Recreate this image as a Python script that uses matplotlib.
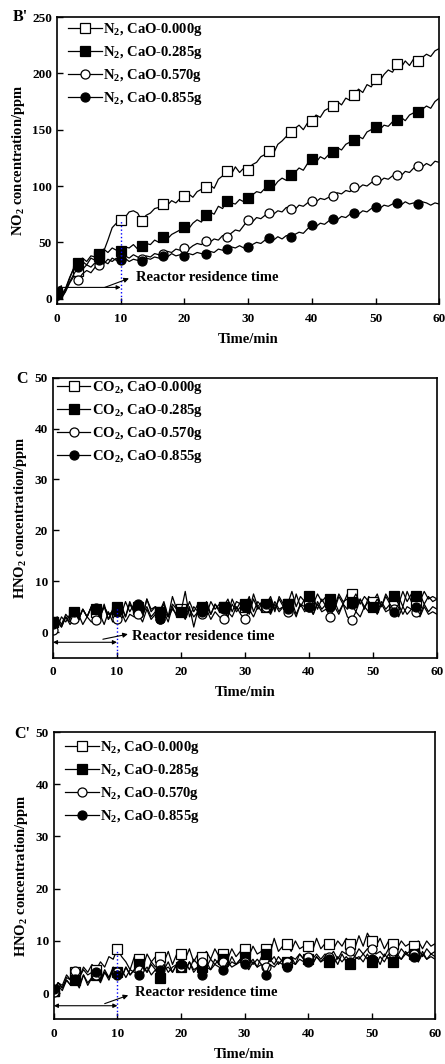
import numpy as np
import matplotlib
matplotlib.use("Agg")
import matplotlib.pyplot as plt

plt.rcParams['font.family'] = ['Liberation Serif', 'DejaVu Serif']
plt.rcParams['font.weight'] = 'bold'
plt.rcParams['axes.labelweight'] = 'bold'
plt.rcParams['mathtext.default'] = 'regular'

# sampling every 40 s, 0-60 min
time_min = np.arange(91) * 2.0 / 3.0

# ---- B' : NO2 under N2 ----
no2_n2_000 = [5, 3, 9, 19, 27, 25, 33, 30, 36, 34, 38, 42, 52, 63, 67,
              70, 72, 77, 78, 76, 69, 74, 76, 80, 81, 84, 83, 87, 85, 89,
              91, 93, 90, 95, 97, 99, 101, 98, 106, 109, 113, 110, 117, 112, 116,
              114, 119, 121, 126, 128, 131, 129, 137, 140, 144, 148, 151, 154, 150, 156,
              158, 163, 161, 167, 169, 171, 175, 172, 178, 176, 181, 186, 183, 190, 188,
              195, 193, 199, 203, 201, 208, 205, 211, 207, 213, 211, 214, 217, 215, 220, 222]
no2_n2_285 = [5, 2, 8, 18, 28, 32, 36, 33, 38, 37, 40, 44, 41, 45, 43,
              42, 46, 45, 48, 44, 47, 49, 48, 52, 50, 55, 53, 57, 59, 61,
              64, 62, 67, 70, 68, 74, 77, 75, 82, 80, 87, 85, 84, 88, 86,
              89, 92, 95, 94, 98, 101, 99, 104, 107, 105, 110, 112, 116, 114, 120,
              124, 121, 126, 124, 128, 130, 134, 132, 137, 139, 141, 144, 142, 148, 150,
              152, 150, 154, 153, 157, 159, 161, 158, 163, 165, 166, 168, 171, 169, 175, 178]
no2_n2_570 = [3, 0, 6, 14, 20, 17, 22, 25, 23, 28, 30, 33, 31, 36, 34,
              35, 38, 36, 39, 37, 35, 38, 37, 40, 39, 40, 42, 41, 44, 43,
              45, 44, 47, 49, 48, 51, 50, 53, 52, 56, 55, 58, 61, 60, 65,
              70, 68, 72, 71, 74, 76, 75, 78, 77, 81, 80, 79, 83, 82, 85,
              87, 86, 89, 88, 90, 91, 94, 93, 96, 95, 99, 98, 101, 100, 103,
              105, 104, 107, 106, 109, 110, 109, 113, 112, 116, 118, 117, 120, 118, 122, 121]
no2_n2_855 = [3, 0, 7, 15, 22, 28, 26, 30, 28, 32, 34, 31, 35, 33, 36,
              34, 36, 33, 35, 34, 33, 36, 35, 37, 36, 38, 37, 40, 38, 39,
              38, 40, 39, 41, 40, 40, 42, 41, 44, 43, 44, 46, 45, 47, 45,
              46, 48, 50, 49, 52, 54, 52, 55, 53, 56, 55, 57, 59, 58, 62,
              65, 64, 67, 66, 69, 71, 70, 73, 72, 75, 76, 75, 78, 77, 80,
              81, 80, 83, 82, 84, 85, 83, 86, 84, 85, 84, 86, 85, 83, 85, 84]

# ---- C : HNO2 under CO2 ----
hno2_co2_000 = [2, 1, 3, 2, 3.5, 3.5, 2.5, 4.5, 3, 5, 4, 3, 5, 2.5, 4.5,
                4, 5.5, 3, 6, 4, 4.5, 3, 6.5, 4, 5, 4, 5.5, 3, 7, 4.5,
                4.5, 3.5, 6, 4, 5.5, 4.5, 6, 3.5, 5.5, 4, 5, 3.5, 6.5, 4.5, 6,
                5, 7, 4, 6, 5, 5, 6.5, 4, 7, 5.5, 5.5, 4, 7.5, 5, 6.5,
                5.5, 7, 4.5, 6.5, 5, 6, 4.5, 7, 5.5, 7.5, 7.5, 5, 6.5, 4.5, 7,
                6, 7.5, 5, 7, 5.5, 5.5, 7, 5, 8, 6, 6, 7.5, 5.5, 7, 6, 6.5]
hno2_co2_285 = [2, 3, 1.5, 3.5, 2.5, 4, 2.5, 4.5, 3, 5, 4.5, 3, 5.5, 2.5, 4,
                5, 3.5, 6, 4, 5.5, 5, 3, 6.5, 4.5, 5, 4, 6, 3, 5.5, 4.5,
                4, 8, 3, 5, 4, 5, 3.5, 6, 4.5, 5.5, 5, 6.5, 4, 6, 5.5,
                5.5, 4, 7.5, 5, 6, 5.5, 7, 4.5, 6.5, 5, 5.5, 8, 5, 7, 6,
                7, 5.5, 7.5, 6, 7, 6.5, 5, 7.5, 6, 6.5, 6, 7.5, 5.5, 7, 6,
                5, 6.5, 5, 7.5, 6, 7, 5.5, 8, 6, 7.5, 7, 6, 8, 6.5, 7, 6.5]
hno2_co2_570 = [0.5, 2, 1, 3, 1.5, 2.5, 3.5, 1.5, 3, 2, 2.3, 3.5, 1.5, 4, 2,
                2.5, 4, 2, 3.5, 3, 3.5, 2, 4.5, 2.5, 3.5, 2.5, 4, 2, 5, 3,
                4, 2.5, 4.5, 3, 4, 3.5, 4.5, 2.5, 4, 3, 2.5, 4, 3, 5, 3.5,
                2.5, 4.5, 3, 5, 4, 5, 3.5, 5.5, 4, 5, 4, 5, 3, 5.5, 4,
                5, 3.5, 5.5, 4, 4.5, 3, 5, 3.5, 5.5, 3, 2.3, 4, 3, 5, 4,
                5, 3.5, 5.5, 4, 4.5, 4.5, 3, 5, 3.5, 4.5, 4, 3, 5, 3.5, 4, 3.5]
hno2_co2_855 = [1.5, 2.5, 1, 3, 2, 4, 2.5, 4.5, 3, 5, 4.8, 3, 5, 3.5, 4,
                4, 5, 3, 5.5, 4, 5.5, 3.5, 5, 3, 4, 2.5, 4, 3, 4.5, 3.5,
                4, 3, 5, 1, 4.5, 4, 5, 3.5, 5.5, 4.5, 4.5, 3, 5.5, 4, 5,
                5, 3.5, 6.5, 4.5, 5.5, 5.5, 4, 6, 4.5, 5, 4.5, 6, 3.5, 5.5, 5,
                5, 3.5, 6, 4.5, 5.5, 5, 6, 4, 5.5, 4.5, 5.5, 4, 6.5, 5, 6,
                5, 4, 6, 4.5, 5.5, 4, 5.5, 3.5, 5, 4.5, 5, 3.5, 5.5, 4, 5, 4.5]

# ---- C' : HNO2 under N2 ----
hno2_n2_000 = [0.5, 2, 1.5, 3.5, 2.5, 4, 3, 5, 4, 5.5, 4.5, 6, 5, 7, 6.5,
               8.5, 7, 6, 4.5, 7, 6.5, 5, 7.5, 6, 7, 7, 6, 8, 5.5, 7.5,
               7.5, 6.5, 8.5, 6, 7.5, 7, 8, 6.5, 8.5, 7, 7.5, 6.5, 8.5, 7, 8,
               8.5, 7, 9, 7.5, 8, 8.5, 7.5, 10.5, 8, 9, 9.5, 8, 10, 8.5, 9,
               9, 8, 10.5, 8.5, 9.5, 9.5, 8.5, 10, 9, 10.5, 9.5, 8.5, 11, 9, 11.5,
               10, 9, 10.5, 8.5, 10, 9.5, 8.5, 10, 9, 9.5, 9, 10, 8.5, 10, 9, 9.5]
hno2_n2_285 = [0.5, 1.5, 0.5, 2.5, 1.5, 2.5, 1, 3.5, 1.5, 3, 3.5, 2, 4, 2.5, 4.5,
               4, 3, 5, 3.5, 4.5, 5.5, 4, 5, 3.5, 4.5, 3, 4.5, 5, 4, 5.5,
               5, 4, 6, 4.5, 5, 5, 6, 4.5, 6.5, 5.5, 6.5, 5, 6, 5.5, 6.5,
               7, 5.5, 6.5, 5, 7, 7.5, 6, 7, 5.5, 6.5, 6, 7, 5.5, 7.5, 6.5,
               6.5, 5.5, 7, 6, 7, 6, 7, 5.5, 7.5, 6, 5.5, 6.5, 7, 6, 7.5,
               6, 7, 5.5, 7.5, 6.5, 6, 7.5, 6.5, 8, 7, 7.5, 6, 8, 6.5, 7.5, 7]
hno2_n2_570 = [0.3, 2, 1, 3, 2.5, 4.2, 3, 4.5, 3.5, 4, 3.5, 2.5, 4.5, 3, 5,
               4, 3, 5, 3.5, 4.5, 4.5, 5.5, 4, 6, 5, 5.5, 4.5, 6, 4, 5.5,
               5, 6, 4.5, 6.5, 5.5, 6, 5, 6.5, 5.5, 6.5, 6, 5, 7, 5.5, 6.5,
               6, 7, 5.5, 6.5, 5.5, 5, 6.5, 5.5, 7, 6, 6, 7, 6.5, 7.5, 6.5,
               7, 6.5, 7.5, 6.5, 7.5, 7, 8, 6.5, 8, 7.5, 8, 7, 8.5, 7.5, 8.5,
               8.5, 7.5, 8, 7, 8.5, 8, 7, 8.5, 7.5, 8, 7.5, 8.5, 7, 8.5, 7.5, 8]
hno2_n2_855 = [0.8, 2, 1, 2.5, 1.5, 2.8, 1.5, 3.5, 2, 3, 4, 2.5, 4, 3, 4.5,
               3.5, 4.5, 3, 4.5, 4, 3.5, 5, 4, 5.5, 4.5, 4.5, 5.5, 4, 5, 5.5,
               5.5, 4.5, 6, 4, 5, 3.5, 5, 4.5, 5.5, 5, 4.5, 6, 5, 5.5, 6,
               5.5, 4.5, 6, 5, 5.5, 3.5, 5.5, 5, 6, 5.5, 5, 6, 5.5, 6.5, 6,
               6, 5.5, 7, 6, 6.5, 6.5, 5.5, 7, 6, 7, 6, 7, 6.5, 7.5, 6.5,
               6.5, 5.5, 7, 6, 7.5, 6, 7, 6.5, 7.5, 7, 7, 6, 7.5, 6.5, 7, 6.5]

cao_labels = ['CaO-0.000g', 'CaO-0.285g', 'CaO-0.570g', 'CaO-0.855g']
marker_styles = [('s', 'white'), ('s', 'black'), ('o', 'white'), ('o', 'black')]

fig = plt.figure(figsize=(4.45, 10.64), dpi=100)


def draw_panel(rect, series, gas, ylabel, ylim, yticks, tag, tagpos,
               vline_top, arrow_y, text_xy, slant, leg_anchor):
    ax = fig.add_axes(rect)
    for data, lab, (mk, fc) in zip(series, cao_labels, marker_styles):
        ax.plot(time_min, data, '-', color='black', lw=0.9,
                marker=mk, mfc=fc, mec='black', ms=6.5, mew=0.9,
                markevery=slice(0, 90, 5),
                label=gas + ', ' + lab)
    ax.set_xlim(0, 60)
    ax.set_ylim(*ylim)
    ax.set_xticks(range(0, 61, 10))
    ax.set_yticks(yticks)
    ax.tick_params(direction='in', length=4, width=1, labelsize=9.5)
    ax.tick_params(axis='x', pad=6)
    for sp in ax.spines.values():
        sp.set_linewidth(1.2)
    ax.set_xlabel('Time/min', fontsize=10.5, labelpad=6)
    ax.set_ylabel(ylabel, fontsize=10.5, labelpad=4)

    # residence-time guides
    ax.vlines(10, ylim[0], vline_top, colors='blue', linestyles=':', lw=1.0)
    ax.annotate('', xy=(10, arrow_y), xytext=(0, arrow_y),
                arrowprops=dict(arrowstyle='<|-|>', lw=0.8, color='black',
                                mutation_scale=6, shrinkA=0, shrinkB=0))
    ax.annotate('', xy=slant[1], xytext=slant[0],
                arrowprops=dict(arrowstyle='-|>', lw=0.8, color='black',
                                mutation_scale=7, shrinkA=0, shrinkB=0))
    ax.text(text_xy[0], text_xy[1], 'Reactor residence time', fontsize=10.5,
            va='center', ha='left')

    ax.legend(loc='upper left', bbox_to_anchor=leg_anchor, frameon=False,
              fontsize=10.5, handlelength=2.3, handletextpad=0.1,
              labelspacing=0.4, borderaxespad=0.0, borderpad=0.0)
    fig.text(tagpos[0], tagpos[1], tag, fontsize=11.5, fontweight='bold',
             ha='left', va='center')
    return ax


draw_panel([0.128, 0.714, 0.859, 0.270],
           [no2_n2_000, no2_n2_285, no2_n2_570, no2_n2_855],
           r'N$_2$', r'NO$_2$ concentration/ppm', (-5, 250), range(0, 251, 50),
           "B'", (0.028, 0.984), 70, 10, (12.4, 19),
           ((7.5, 10), (11.3, 18)), (0.03, 0.985))

draw_panel([0.119, 0.382, 0.863, 0.263],
           [hno2_co2_000, hno2_co2_285, hno2_co2_570, hno2_co2_855],
           r'CO$_2$', r'HNO$_2$ concentration/ppm', (-5, 50), range(0, 51, 10),
           'C', (0.036, 0.644), 5, -2, (12.3, -0.8),
           ((7.8, -1.4), (11.7, -0.4)), (0.01, 0.995))

draw_panel([0.121, 0.042, 0.857, 0.270],
           [hno2_n2_000, hno2_n2_285, hno2_n2_570, hno2_n2_855],
           r'N$_2$', r'HNO$_2$ concentration/ppm', (-5, 50), range(0, 51, 10),
           "C'", (0.033, 0.310), 8, -2.4, (12.8, 0.2),
           ((8, -2), (11.7, -0.4)), (0.03, 0.975))

fig.savefig('out.png', dpi=100)
